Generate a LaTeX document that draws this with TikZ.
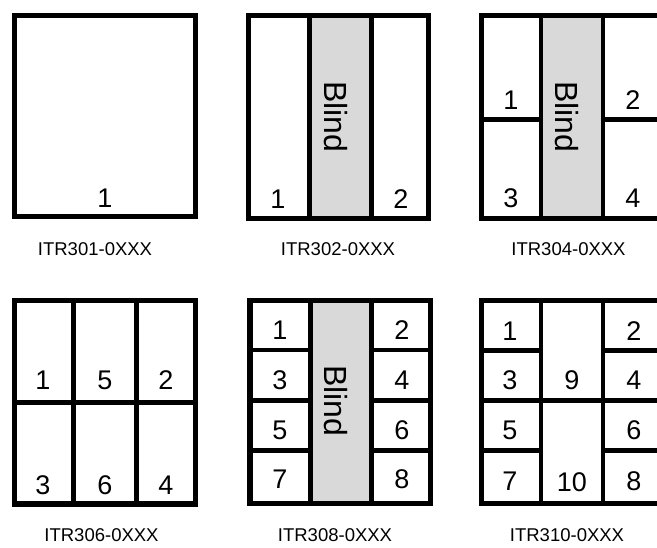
\documentclass[tikz,border=0pt]{standalone}
\usepackage{fontspec}
\setmainfont{Liberation Sans}
\usetikzlibrary{positioning}

\begin{document}
\begin{tikzpicture}[
    x=1pt, y=-1pt,
    frame/.style={draw=black, line width=5.5pt},
    wall/.style={draw=black, line width=4.5pt},
    blindcol/.style={fill=black!15},
    cellno/.style={anchor=base, inner sep=0pt, font=\fontsize{27}{31}\selectfont},
    blindtext/.style={rotate=-90, inner sep=0pt, font=\fontsize{32}{36}\selectfont},
    partno/.style={anchor=base, inner sep=0pt, font=\fontsize{18.5}{22}\selectfont},
]
\useasboundingbox (0,0) rectangle (657,548);
\clip (0,0) rectangle (657,548);
\fill[white] (0,0) rectangle (657,548);

% --- ITR301: one window ---
\draw[frame] (14.5,15.5) rectangle (195.5,216.5);
\node[cellno] (a1) at (105,208) {1};
\node[partno] (ta) at (95,256) {ITR301-0XXX};

% --- ITR302: two windows, blind in the middle ---
\fill[blindcol] (309,15.5) rectangle (372,218.5);
\foreach \xx in {309.3, 371.7}
    \draw[wall] (\xx,15.5) -- (\xx,218.5);
\draw[frame] (248.5,15.5) rectangle (428.5,218.5);
\node[cellno] (b1) at (278,209) {1};
\node[cellno] (b2) at (401,209) {2};
\node[blindtext] (bb) at (336,117) {Blind};
\node[partno] (tb) at (338,256) {ITR302-0XXX};

% --- ITR304: four windows, blind in the middle ---
\fill[blindcol] (541,15.5) rectangle (603,218.5);
\foreach \xx in {541, 603}
    \draw[wall] (\xx,15.5) -- (\xx,218.5);
\draw[wall] (481.5,119.3) -- (541,119.3);
\draw[wall] (603,119.3) -- (661,119.3);
\draw[frame] (481.5,15.5) rectangle (661,218.5);
\node[cellno] (c1) at (511,110) {1};
\node[cellno] (c2) at (633,110) {2};
\node[cellno] (c3) at (511,208) {3};
\node[cellno] (c4) at (633,208) {4};
\node[blindtext] (cb) at (567,117) {Blind};
\node[partno] (tc) at (568.5,256) {ITR304-0XXX};

% --- ITR306: six windows ---
\foreach \xx in {73.7, 136.7}
    \draw[wall] (\xx,300.5) -- (\xx,504);
\draw[wall] (14.5,402.3) -- (195.5,402.3);
\draw[frame] (14.5,300.5) rectangle (195.5,504);
\node[cellno] (d1) at (43,390) {1};
\node[cellno] (d5) at (105,390) {5};
\node[cellno] (d2) at (166,390) {2};
\node[cellno] (d3) at (43,495) {3};
\node[cellno] (d6) at (105,495) {6};
\node[cellno] (d4) at (166,495) {4};
\node[partno] (td) at (101.5,541) {ITR306-0XXX};

% --- ITR308: eight windows, blind in the middle ---
\fill[blindcol] (310.7,300.5) rectangle (371.7,503.5);
\foreach \xx in {310.7, 371.7}
    \draw[wall] (\xx,300.5) -- (\xx,503.5);
\foreach \yy in {350, 400.7, 450.7} {
    \draw[wall] (249.8,\yy) -- (310.7,\yy);
    \draw[wall] (371.7,\yy) -- (430.5,\yy);
}
\draw[frame] (249.8,300.5) rectangle (430.5,503.5);
\foreach \l/\r/\yy in {1/2/340, 3/4/390, 5/6/439, 7/8/489} {
    \node[cellno] (e\l) at (280,\yy) {\l};
    \node[cellno] (e\r) at (402,\yy) {\r};
}
\node[blindtext] (eb) at (336,401) {Blind};
\node[partno] (te) at (335,541) {ITR308-0XXX};

% --- ITR310: ten windows ---
\foreach \xx in {541, 603}
    \draw[wall] (\xx,300.5) -- (\xx,503.5);
\foreach \yy in {350.5, 400.5, 450.5} {
    \draw[wall] (481.5,\yy) -- (541,\yy);
    \draw[wall] (603,\yy) -- (661,\yy);
}
\draw[wall] (541,400.5) -- (603,400.5);
\draw[frame] (481.5,300.5) rectangle (661,503.5);
\foreach \l/\r/\yy in {1/2/341, 3/4/390, 5/6/440, 7/8/491} {
    \node[cellno] (f\l) at (510,\yy) {\l};
    \node[cellno] (f\r) at (634,\yy) {\r};
}
\node[cellno] (f9) at (572,390) {9};
\node[cellno] (f10) at (572,492) {10};
\node[partno] (tf) at (567,541) {ITR310-0XXX};

\end{tikzpicture}
\end{document}
